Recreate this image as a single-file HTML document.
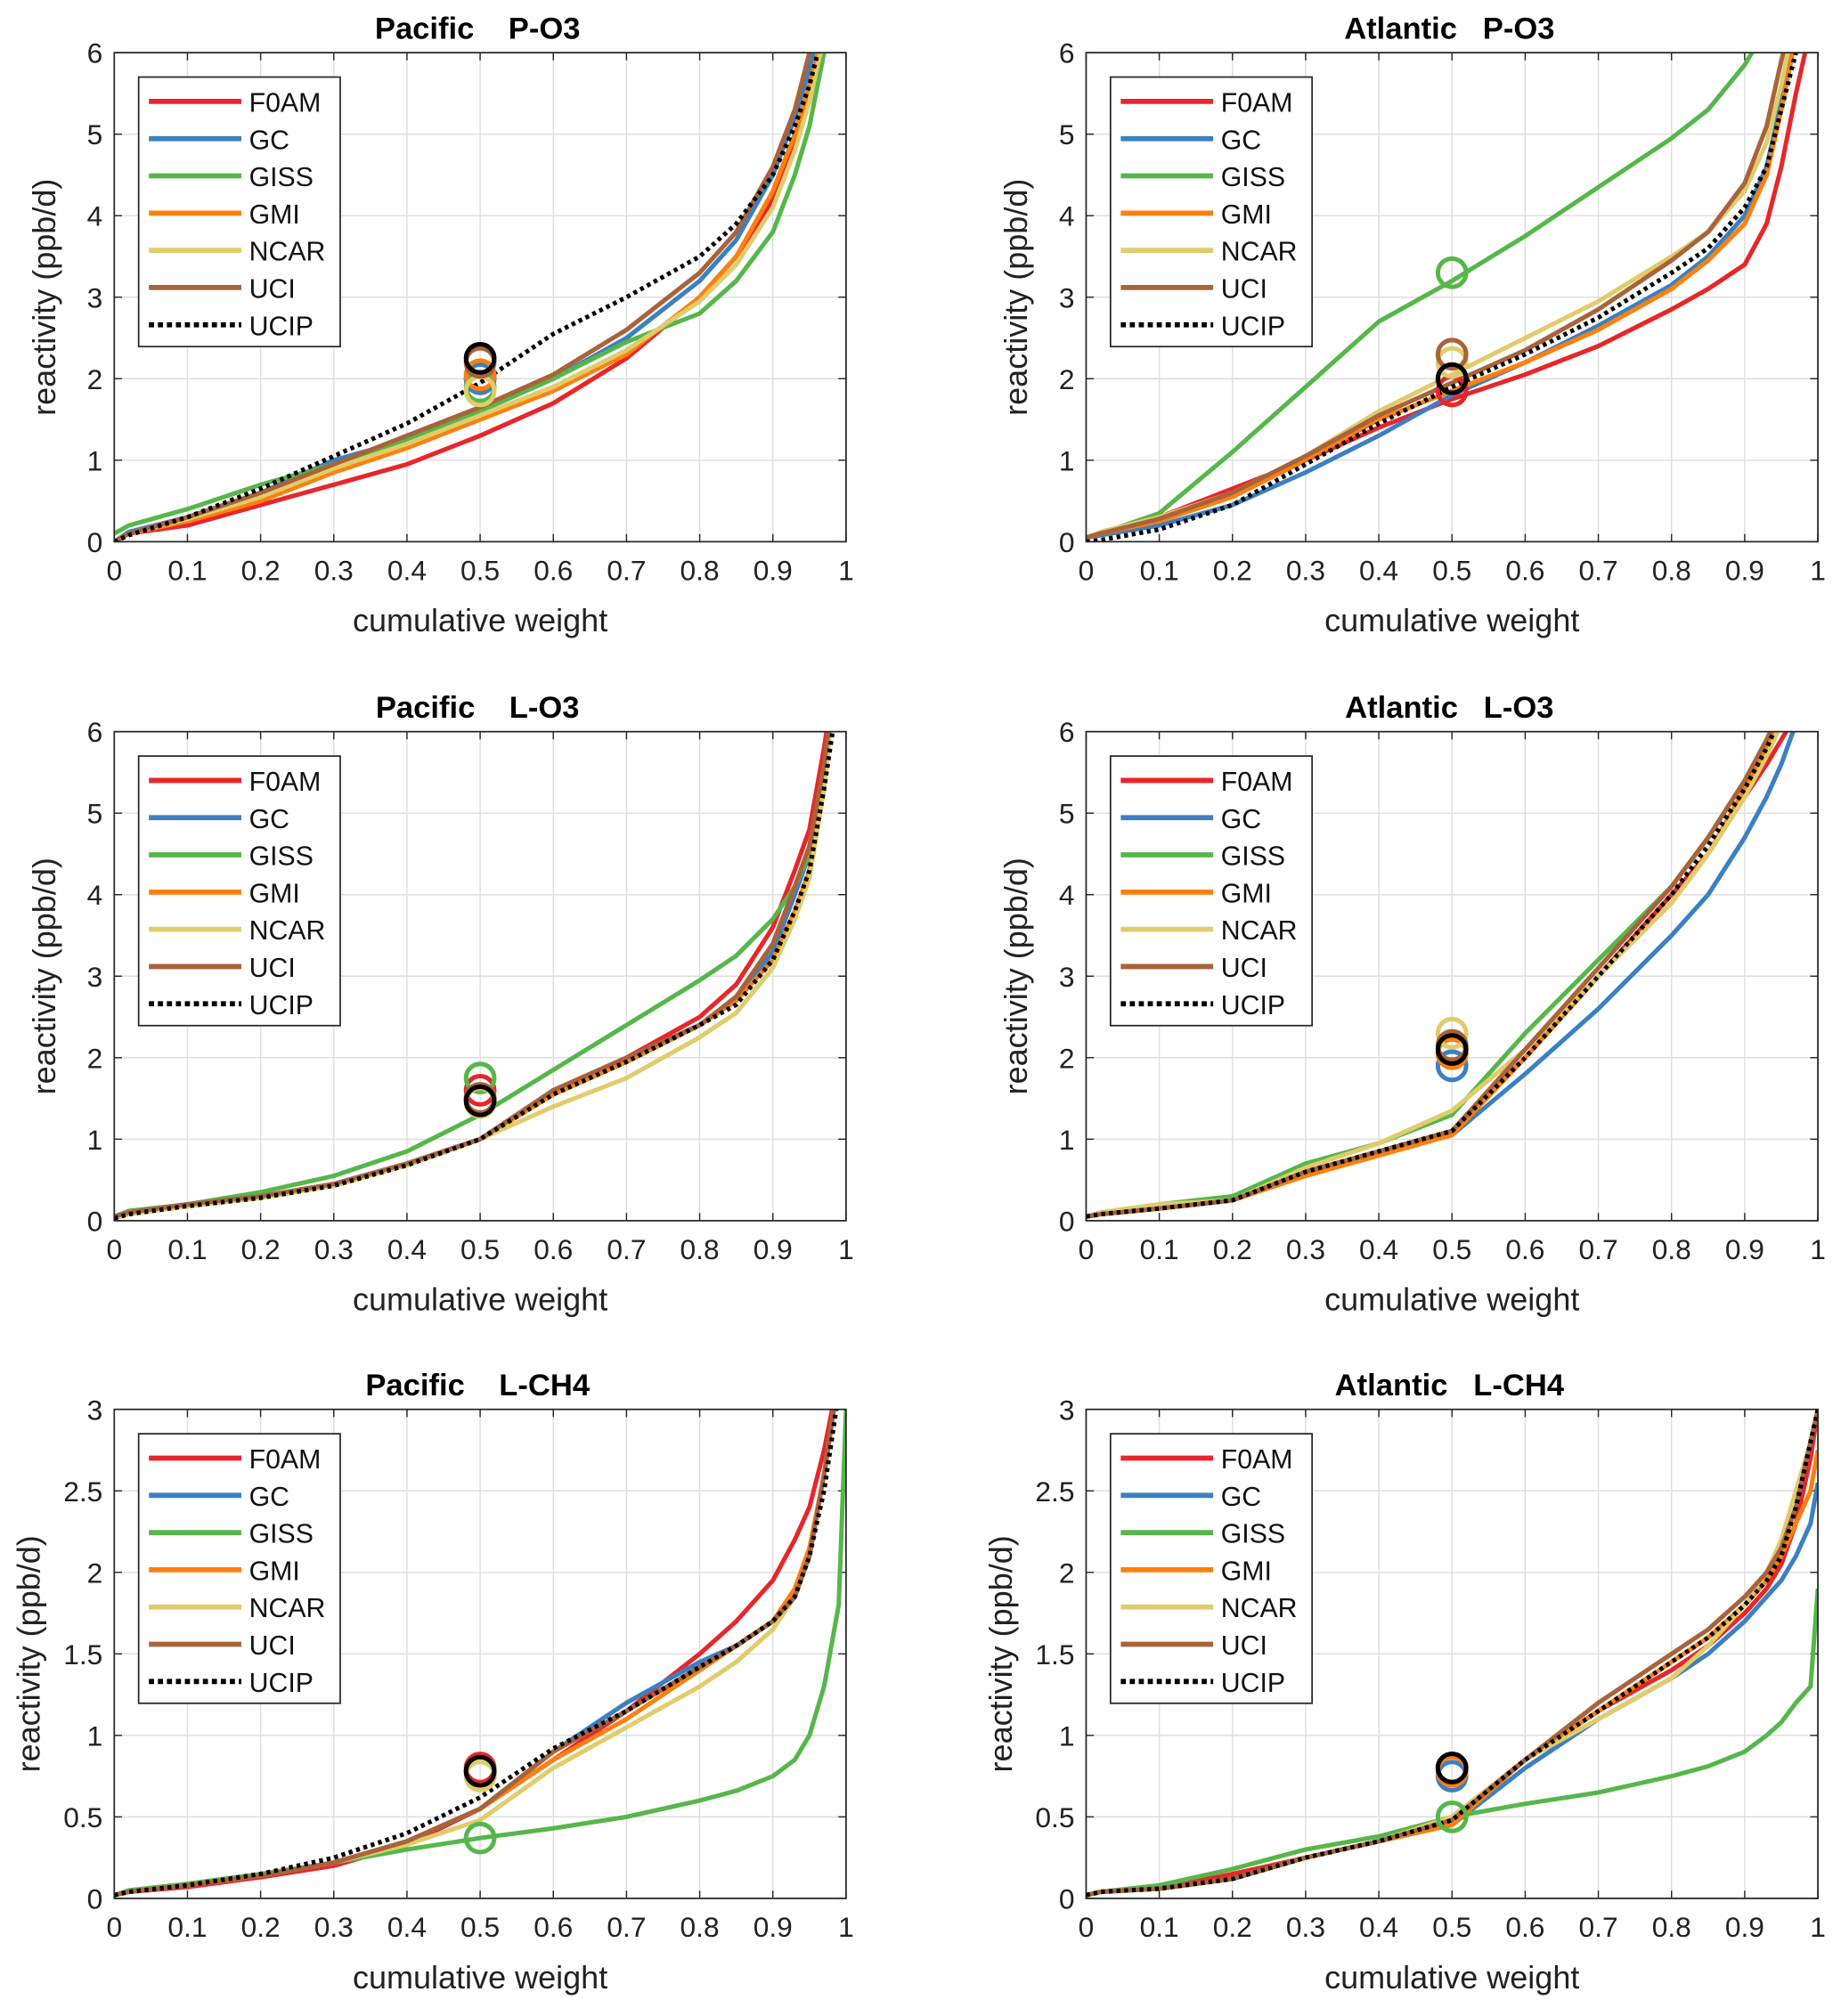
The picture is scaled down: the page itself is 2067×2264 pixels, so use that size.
<!DOCTYPE html>
<html><head><meta charset="utf-8"><style>
html,body{margin:0;padding:0;background:#fff;}
svg{display:block;font-family:"Liberation Sans",Arial,sans-serif;}
.ttl{white-space:pre;}
</style></head><body>
<svg id="fig" width="2067" height="2264" viewBox="0 0 1434 1570.6" xmlns="http://www.w3.org/2000/svg"></svg>
<script>
const xs = [0,0.02,0.1,0.2,0.3,0.4,0.5,0.6,0.7,0.8,0.85,0.9,0.93,0.95,0.97,0.99,1];
const models = ["F0AM","GC","GISS","GMI","NCAR","UCI","UCIP"];
const colors = ["#e8262a","#3a80c3","#55b74a","#ff7f0e","#e0cc6a","#a9633a","#000"];
const titles = ["Pacific    P-O3","Atlantic   P-O3","Pacific    L-O3","Atlantic   L-O3","Pacific    L-CH4","Atlantic   L-CH4"];
const yMaxes = [6,6,6,6,3,3];
const yTicks6 = [0,1,2,3,4,5,6];
const yTicks3 = [0,0.5,1,1.5,2,2.5,3];
const xTicks = [0,0.1,0.2,0.3,0.4,0.5,0.6,0.7,0.8,0.9,1];
const p1 = [
[0,0.1,0.2,0.45,0.7,0.95,1.3,1.7,2.25,3.0,3.5,4.2,4.9,5.5,6.3,7,8],
[0,0.12,0.3,0.6,1.0,1.25,1.6,2.0,2.5,3.2,3.7,4.5,5.2,5.8,6.5,7,8],
[0.1,0.2,0.4,0.7,0.95,1.25,1.6,2.0,2.45,2.8,3.2,3.8,4.5,5.1,6,7,8],
[0,0.1,0.25,0.5,0.85,1.15,1.5,1.85,2.3,3.0,3.5,4.3,5.0,5.6,6.3,7,8],
[0,0.1,0.28,0.55,0.9,1.2,1.55,1.9,2.35,2.95,3.4,4.1,4.8,5.4,6.2,7,8],
[0,0.1,0.3,0.6,0.95,1.3,1.65,2.05,2.6,3.3,3.8,4.6,5.3,6.0,6.6,7,8],
[0,0.08,0.3,0.65,1.05,1.45,1.95,2.55,3.0,3.5,3.9,4.5,5.1,5.6,6.3,7,8]];
const p2 = [
[0.05,0.1,0.3,0.65,1.0,1.4,1.75,2.05,2.4,2.85,3.1,3.4,3.9,4.6,5.5,6.3,7],
[0.05,0.08,0.2,0.45,0.85,1.3,1.8,2.2,2.65,3.15,3.5,4.0,4.6,5.4,6.3,7,8],
[0.05,0.1,0.35,1.1,1.9,2.7,3.2,3.75,4.35,4.95,5.3,5.85,6.3,7,8,8,8],
[0.05,0.1,0.25,0.55,1.0,1.5,1.85,2.2,2.6,3.1,3.45,3.9,4.5,5.3,6.2,7,8],
[0.05,0.12,0.3,0.6,1.05,1.6,2.05,2.5,2.95,3.5,3.8,4.3,4.9,5.6,6.5,7,8],
[0.05,0.1,0.28,0.6,1.05,1.55,1.95,2.35,2.85,3.45,3.8,4.4,5.1,5.9,6.6,7,8],
[0,0.02,0.15,0.45,0.95,1.45,1.9,2.3,2.75,3.3,3.6,4.1,4.6,5.3,6.0,6.8,8]];
const p3 = [
[0.05,0.1,0.2,0.3,0.45,0.7,1.0,1.6,2.0,2.5,2.9,3.6,4.3,4.8,5.8,7,8],
[0.05,0.1,0.2,0.3,0.45,0.7,1.0,1.6,1.95,2.4,2.7,3.3,4.0,4.5,5.5,7,8],
[0.05,0.12,0.2,0.35,0.55,0.85,1.3,1.85,2.4,2.95,3.25,3.7,4.1,4.5,5.5,7,8],
[0.03,0.08,0.18,0.28,0.43,0.68,1.0,1.55,1.95,2.4,2.7,3.2,3.8,4.3,5.4,7,8],
[0.03,0.08,0.18,0.28,0.43,0.68,1.0,1.4,1.75,2.25,2.55,3.1,3.7,4.2,5.3,7,8],
[0.05,0.1,0.2,0.3,0.45,0.7,1.0,1.6,2.0,2.4,2.75,3.4,4.1,4.6,5.6,7,8],
[0.03,0.08,0.18,0.28,0.43,0.68,1.0,1.55,1.95,2.4,2.65,3.2,3.8,4.3,5.3,6.5,8]];
const p4 = [
[0.05,0.08,0.15,0.25,0.6,0.85,1.1,2.0,3.0,4.0,4.5,5.2,5.6,5.9,6.2,7,8],
[0.05,0.08,0.15,0.25,0.6,0.85,1.05,1.8,2.6,3.5,4.0,4.7,5.2,5.6,6.1,7,8],
[0.05,0.1,0.2,0.3,0.7,0.95,1.3,2.3,3.2,4.1,4.7,5.4,5.9,6.3,7,8,8],
[0.05,0.08,0.15,0.25,0.55,0.8,1.05,2.0,3.0,3.9,4.5,5.3,5.8,6.2,7,8,8],
[0.05,0.1,0.2,0.25,0.65,0.95,1.35,2.1,3.0,3.9,4.5,5.2,5.7,6.1,6.8,8,8],
[0.05,0.08,0.15,0.25,0.6,0.85,1.1,2.1,3.1,4.1,4.7,5.4,5.9,6.3,7,8,8],
[0.05,0.08,0.15,0.25,0.6,0.85,1.1,2.0,3.0,4.0,4.6,5.3,5.8,6.2,7,8,8]];
const p5 = [
[0.02,0.04,0.07,0.13,0.2,0.33,0.55,0.85,1.15,1.5,1.7,1.95,2.2,2.4,2.75,3.2,4],
[0.02,0.04,0.08,0.14,0.22,0.35,0.55,0.9,1.2,1.45,1.55,1.7,1.85,2.1,2.6,3.2,4],
[0.02,0.05,0.09,0.15,0.22,0.3,0.37,0.43,0.5,0.6,0.66,0.75,0.85,1.0,1.3,1.8,3],
[0.02,0.04,0.08,0.14,0.22,0.35,0.55,0.85,1.1,1.4,1.55,1.7,1.9,2.15,2.6,3.2,4],
[0.02,0.04,0.08,0.14,0.22,0.33,0.48,0.8,1.05,1.3,1.45,1.65,1.85,2.1,2.6,3.2,4],
[0.02,0.04,0.08,0.14,0.22,0.35,0.55,0.9,1.15,1.42,1.55,1.7,1.85,2.1,2.6,3.2,4],
[0.02,0.04,0.08,0.15,0.25,0.4,0.62,0.92,1.15,1.42,1.55,1.7,1.85,2.1,2.5,3.1,4]];
const p6 = [
[0.02,0.04,0.06,0.15,0.25,0.35,0.5,0.85,1.15,1.4,1.55,1.75,1.9,2.05,2.3,2.7,3],
[0.02,0.04,0.06,0.12,0.25,0.35,0.45,0.8,1.1,1.35,1.5,1.7,1.85,1.95,2.1,2.3,2.55],
[0.02,0.04,0.08,0.18,0.3,0.38,0.5,0.58,0.65,0.75,0.81,0.9,1.0,1.08,1.2,1.3,1.9],
[0.02,0.04,0.06,0.12,0.25,0.35,0.45,0.85,1.15,1.45,1.6,1.8,1.95,2.1,2.3,2.5,2.75],
[0.02,0.04,0.06,0.12,0.25,0.35,0.5,0.85,1.1,1.35,1.55,1.8,2.0,2.2,2.5,2.8,3],
[0.02,0.04,0.06,0.12,0.25,0.35,0.48,0.85,1.2,1.5,1.65,1.85,2.0,2.15,2.4,2.8,3],
[0.02,0.04,0.06,0.12,0.25,0.35,0.48,0.85,1.15,1.45,1.6,1.8,1.95,2.1,2.4,2.8,3]];
const circles1 = [2.0,2.0,1.9,2.05,1.85,2.2,2.25];
const circles2 = [1.85,2.0,3.3,2.0,2.2,2.3,2.0];
const circles3 = [1.6,1.5,1.75,1.5,1.45,1.5,1.47];
const circles4 = [2.1,1.9,2.05,2.05,2.3,2.15,2.1];
const circles5 = [0.8,0.78,0.37,0.78,0.75,0.78,0.78];
const circles6 = [0.8,0.75,0.5,0.78,0.8,0.8,0.8];

const panelData = [p1,p2,p3,p4,p5,p6];
const panelCircles = [circles1,circles2,circles3,circles4,circles5,circles6];
const NS = "http://www.w3.org/2000/svg";
const svg = document.getElementById("fig");
function mk(tag, attrs, parent){const e=document.createElementNS(NS,tag);for(const k in attrs)e.setAttribute(k,attrs[k]);(parent||svg).appendChild(e);return e;}
const lefts=[89,846], tops=[41,570,1098], W=570, H=381;
for(let p=0;p<6;p++){
  const L=lefts[p%2], T=tops[Math.floor(p/2)], ymax=yMaxes[p];
  const g=mk("g",{});
  
  
  const X=v=>L+v*W, Y=v=>T+H-v/ymax*H;
  const cid="clip"+p;
  const cp=mk("clipPath",{id:cid},g); mk("rect",{x:L,y:T,width:W,height:H},cp);
  const yt = ymax===6?yTicks6:yTicks3;
  xTicks.forEach(t=>{
    const gl=mk("line",{x1:X(t),x2:X(t),y1:T,y2:T+H,stroke:"#dedede","stroke-width":1},g);
    
    mk("line",{x1:X(t),x2:X(t),y1:T+H,y2:T+H-6,stroke:"#262626","stroke-width":1},g);
    mk("line",{x1:X(t),x2:X(t),y1:T,y2:T+6,stroke:"#262626","stroke-width":1},g);
    const tx=mk("text",{x:X(t),y:T+H+30,"text-anchor":"middle","font-size":22,fill:"#222"},g);
    tx.textContent=String(t);
    
  });
  yt.forEach(t=>{
    const gl=mk("line",{x1:L,x2:L+W,y1:Y(t),y2:Y(t),stroke:"#dedede","stroke-width":1},g);
    
    mk("line",{x1:L,x2:L+6,y1:Y(t),y2:Y(t),stroke:"#262626","stroke-width":1},g);
    mk("line",{x1:L+W-6,x2:L+W,y1:Y(t),y2:Y(t),stroke:"#262626","stroke-width":1},g);
    const tx=mk("text",{x:L-9,y:Y(t)+8,"text-anchor":"end","font-size":22,fill:"#222"},g);
    tx.textContent=String(t);
    
  });
  const lg=mk("g",{"clip-path":"url(#"+cid+")"},g);
  panelData[p].forEach((ser,i)=>{
    const d=ser.map((v,j)=>(j?"L":"M")+X(xs[j]).toFixed(1)+","+Y(v).toFixed(1)).join(" ");
    const a={d:d,fill:"none",stroke:colors[i],"stroke-width":3.5,"stroke-linejoin":"round"};
    if(i===6){a["stroke-dasharray"]="3,3";}
    const pe=mk("path",a,lg);
    
    
  });
  panelCircles[p].forEach((v,i)=>{
    const c=mk("circle",{cx:X(0.5),cy:Y(v),r:11,fill:"none",stroke:colors[i],"stroke-width":3.5},lg);
    
    
  });
  const box=mk("rect",{x:L,y:T,width:W,height:H,fill:"none",stroke:"#262626","stroke-width":1.2},g);
  
  const tt=mk("text",{x:L+W/2-2,y:T-11,"text-anchor":"middle","font-size":24,"font-weight":"bold",fill:"#000","class":"ttl"},g);
  tt.textContent=titles[p];
  
  const xl=mk("text",{x:L+W/2,y:T+H+70,"text-anchor":"middle","font-size":25,fill:"#222"},g);
  xl.textContent="cumulative weight";
  
  const yx = (ymax===6?L-46:L-58);
  const yl=mk("text",{x:yx,y:T+H/2,"text-anchor":"middle","font-size":25,fill:"#222",transform:"rotate(-90 "+yx+" "+(T+H/2)+")"},g);
  yl.textContent="reactivity (ppb/d)";
  
  const leg=mk("g",{},g);
  
  mk("rect",{x:L+19,y:T+19,width:157,height:210,fill:"#fff",stroke:"#262626","stroke-width":1.2},leg);
  models.forEach((m,i)=>{
    const yy=T+38+i*29;
    const la={x1:L+27,x2:L+99,y1:yy,y2:yy,stroke:colors[i],"stroke-width":4};
    if(i===6)la["stroke-dasharray"]="4,3";
    mk("line",la,leg);
    const t=mk("text",{x:L+105,y:yy+8,"font-size":21,fill:"#111"},leg);
    t.textContent=m;
    
  });
}
</script>
</body></html>
